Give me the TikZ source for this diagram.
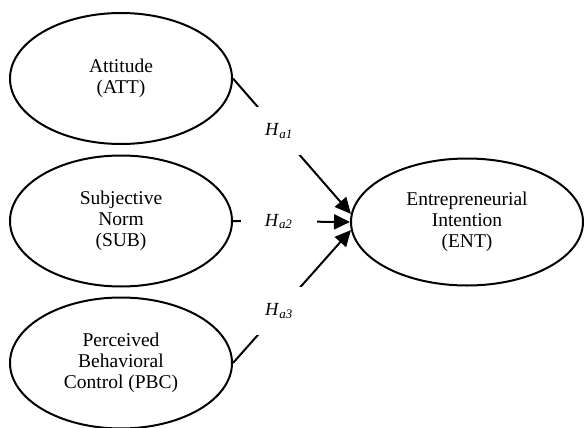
\documentclass[tikz,border=0pt]{standalone}
\usepackage{fontspec}
\setmainfont{Liberation Serif}
\usetikzlibrary{shapes.geometric,arrows.meta}

\begin{document}
\begin{tikzpicture}[x=1pt,y=-1pt,line width=2pt,
  construct/.style={draw,ellipse,inner sep=0pt,minimum width=222pt,minimum height=131pt,align=center,font=\fontsize{19.5}{21}\selectfont},
  hyp/.style={fill=white,inner sep=0pt,minimum width=76pt,minimum height=48pt,font=\fontsize{18.5}{20}\selectfont},
  post/.style={-{Triangle[length=16pt,width=15pt]}}]

\useasboundingbox (0,0) rectangle (584,428);

\node[construct] (att) at (121,78.5) {Attitude\\(ATT)};
\node[construct] (sub) at (121,221) {Subjective\\Norm\\(SUB)};
\node[construct] (pbc) at (121,363) {Perceived\\Behavioral\\Control (PBC)};

\node[construct,minimum width=232pt,minimum height=127pt] (ent) at (467,222) {Entrepreneurial\\Intention\\(ENT)};

% hypotheses
\foreach \src/\dst/\lab in {att/176/1, sub/180/2, pbc/184/3}{
\path (\src.east) edge [post] node [hyp,pos=.39] (h\lab) {\textit{H}\textsubscript{\textit{a\lab}}} (ent.\dst);
}

\end{tikzpicture}
\end{document}
